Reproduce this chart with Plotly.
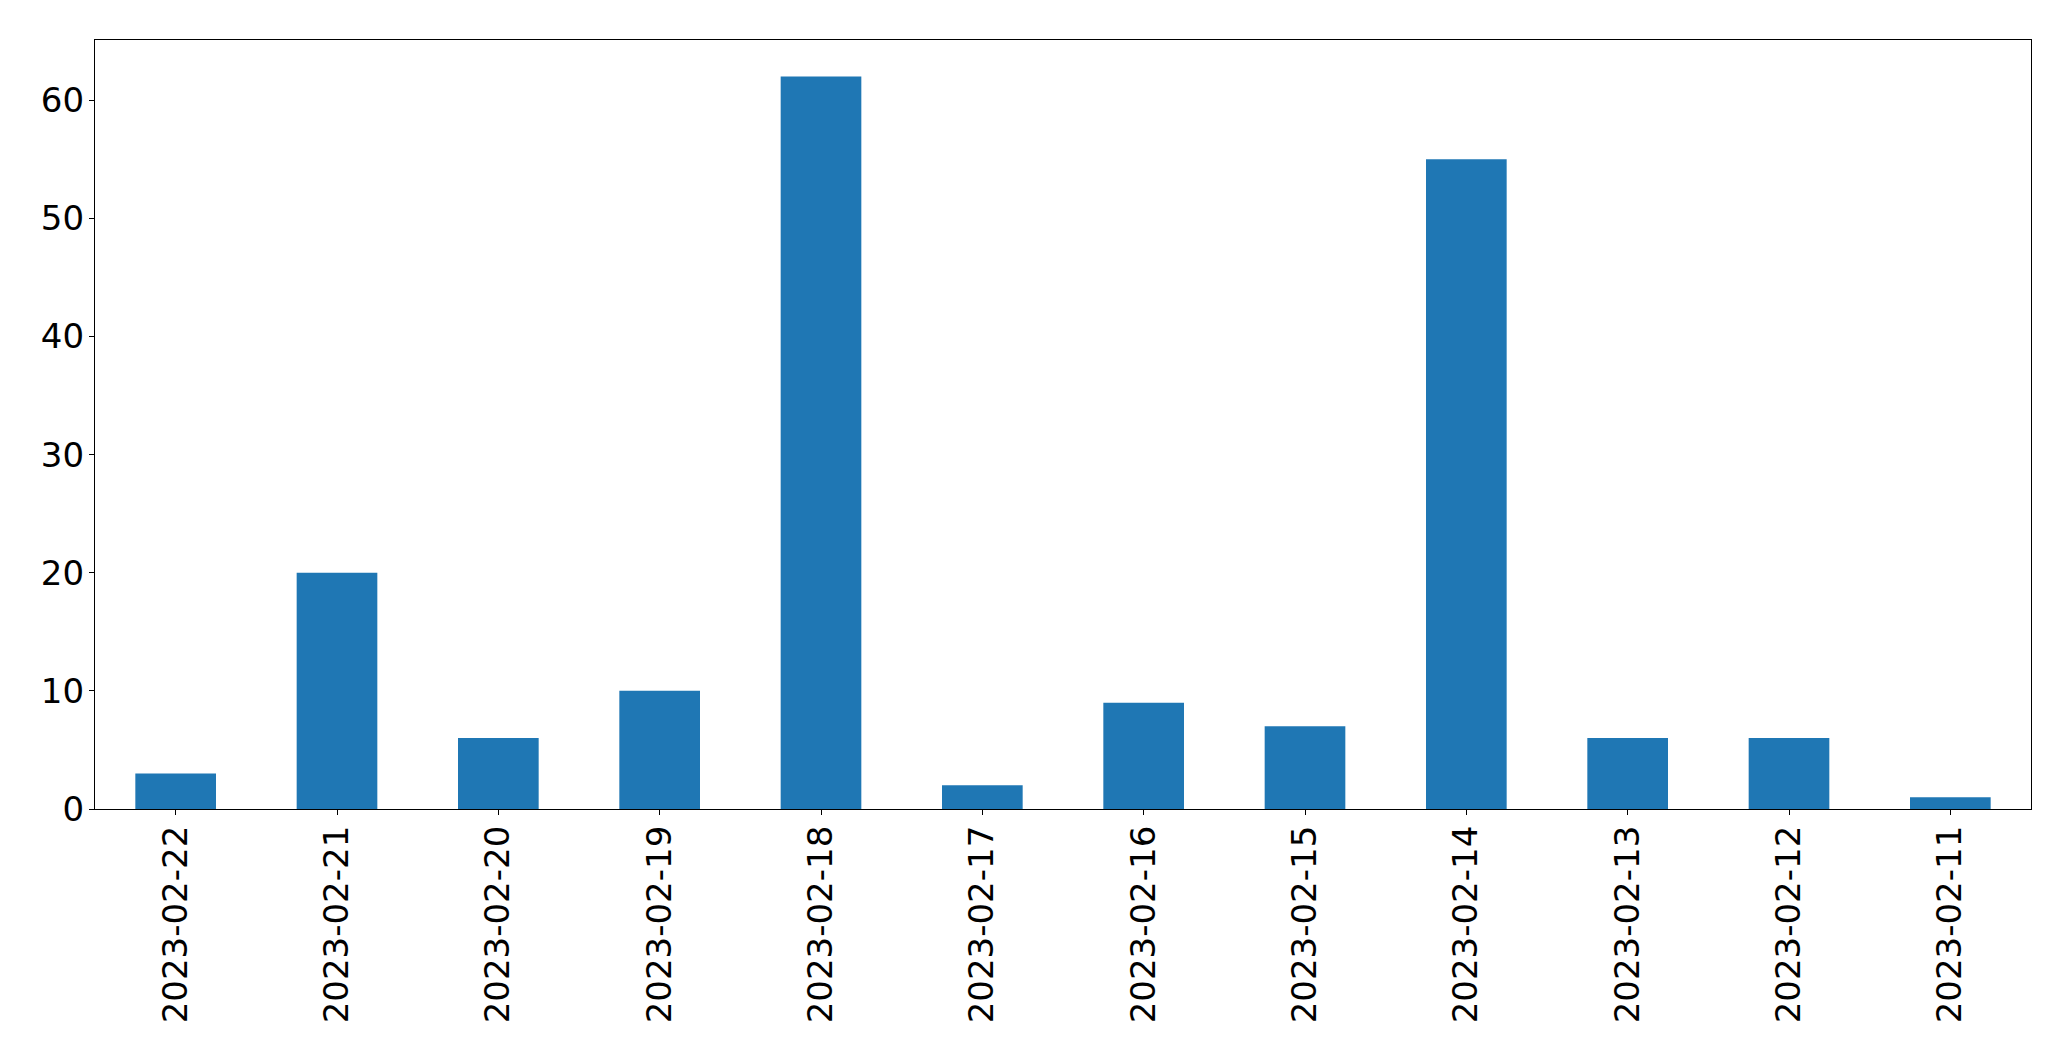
import plotly.graph_objects as go

dates = ["2023-02-22", "2023-02-21", "2023-02-20", "2023-02-19", "2023-02-18", "2023-02-17",
         "2023-02-16", "2023-02-15", "2023-02-14", "2023-02-13", "2023-02-12", "2023-02-11"]
counts = [3, 20, 6, 10, 62, 2, 9, 7, 55, 6, 6, 1]
y_ticks = [0, 10, 20, 30, 40, 50, 60]

fig = go.Figure()
fig.add_trace(go.Bar(x=dates, y=counts, marker=dict(color="#1f77b4", line=dict(width=0)), width=0.5))

font = dict(family="DejaVu Sans", size=34, color="black")
fig.update_layout(
    width=2063, height=1053,
    margin=dict(l=86.5, r=39.5, t=31.5, b=252, pad=0),
    paper_bgcolor="white", plot_bgcolor="white",
    showlegend=False,
    font=font,
)
fig.update_xaxes(
    type="category", range=[-0.5, 11.5], tickangle=-90,
    showline=True, linecolor="black", linewidth=1.3, mirror=True,
    ticks="outside", ticklen=5, tickwidth=1.3, tickcolor="black",
    showgrid=False, zeroline=False, tickfont=font, ticklabelstandoff=-3,
)
fig.update_yaxes(
    range=[0, 65.1], tickvals=y_ticks,
    showline=True, linecolor="black", linewidth=1.3, mirror=True,
    ticks="outside", ticklen=5, tickwidth=1.3, tickcolor="black",
    showgrid=False, zeroline=False, tickfont=font, ticklabelstandoff=-2,
)
fig.write_html("out.html")
